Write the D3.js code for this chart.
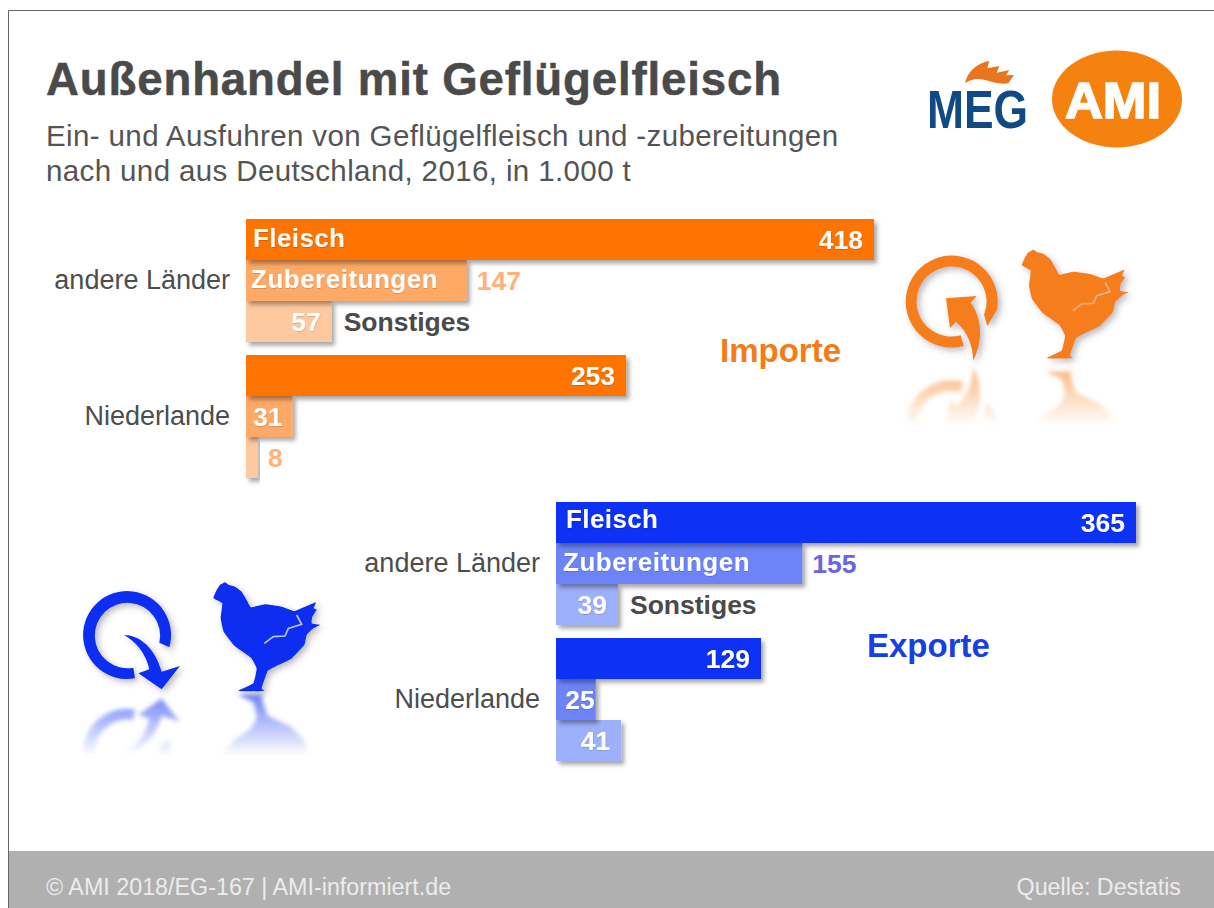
<!DOCTYPE html>
<html><head><meta charset="utf-8">
<script src="https://cdn.jsdelivr.net/npm/d3@7/dist/d3.min.js"></script>
<style>html,body{margin:0;padding:0;background:#fff;overflow:hidden}text{font-family:"Liberation Sans",Arial,sans-serif}</style>
</head><body><script>
const regions = ["andere Länder","Niederlande"];
const kinds = ["Fleisch","Zubereitungen","Sonstiges"];
const importValues = [418,147,57,253,31,8];
const exportValues = [365,155,39,129,25,41];
const titleText = "Außenhandel mit Geflügelfleisch";
const subtitleLines = ["Ein- und Ausfuhren von Geflügelfleisch und -zubereitungen","nach und aus Deutschland, 2016, in 1.000 t"];
const footerLeft = "© AMI 2018/EG-167 | AMI-informiert.de";
const footerRight = "Quelle: Destatis";

const W=1214,H=908;
const svg=d3.select("body").append("svg").attr("width",W).attr("height",H).style("display","block");
const defs=svg.append("defs");
const sh=defs.append("filter").attr("id","shadow").attr("x","-10%").attr("y","-10%").attr("width","125%").attr("height","140%");
sh.append("feDropShadow").attr("dx",3).attr("dy",3.5).attr("stdDeviation",2.2).attr("flood-color","#000").attr("flood-opacity",0.35);
const sh2=defs.append("filter").attr("id","iconShadow").attr("x","-20%").attr("y","-20%").attr("width","150%").attr("height","150%");
sh2.append("feDropShadow").attr("dx",3).attr("dy",3).attr("stdDeviation",3).attr("flood-color","#556").attr("flood-opacity",0.4);
const bl=defs.append("filter").attr("id","blur").attr("x","-20%").attr("y","-20%").attr("width","140%").attr("height","140%");
bl.append("feGaussianBlur").attr("stdDeviation",2);
const ts=defs.append("filter").attr("id","textShadow").attr("x","-5%").attr("y","-20%").attr("width","110%").attr("height","150%");
ts.append("feDropShadow").attr("dx",0.5).attr("dy",1).attr("stdDeviation",0.6).attr("flood-color","#000").attr("flood-opacity",0.15);

// frame and header
svg.append("path").attr("d",`M8.5 ${H} V10.5 H${W}`).attr("fill","none").attr("stroke","#666").attr("stroke-width",1);
svg.append("text").attr("x",46).attr("y",95).attr("font-size",45.6).attr("font-weight",700).attr("letter-spacing",0.86).attr("fill","#4a4a4a").attr("stroke","#4a4a4a").attr("stroke-width",0.5).text(titleText);
subtitleLines.forEach((t,i)=>svg.append("text").attr("x",46).attr("y",146+i*35.3).attr("font-size",29.5).attr("letter-spacing",0.38).attr("fill","#545454").text(t));
svg.append("rect").attr("x",9).attr("y",851).attr("width",W-9).attr("height",57).attr("fill","#b0b0b0");
svg.append("text").attr("x",46).attr("y",895).attr("font-size",23.3).attr("fill","#ececec").text(footerLeft);
svg.append("text").attr("x",1181).attr("y",895).attr("text-anchor","end").attr("font-size",23.3).attr("fill","#ececec").text(footerRight);

// panels
function panel(o){
  const x=d3.scaleLinear().domain([0,o.max]).range([o.x0,o.x1]);
  const rows=regions.flatMap((r,i)=>kinds.map((k,j)=>({r,k,i,j,v:o.values[i*3+j]})));
  const bandH=41;
  const g=svg.append("g");
  const yOf=d=>o.tops[d.i]+d.j*bandH;
  const sel=g.selectAll("g.bar").data(rows.slice().reverse()).join("g").attr("class","bar");
  sel.append("rect").attr("x",x(0)).attr("y",yOf).attr("width",d=>x(d.v)-x(0)).attr("height",bandH)
    .attr("fill",d=>o.colors[d.j]).attr("filter","url(#shadow)");
  regions.forEach((r,i)=>g.append("text").attr("x",x(0)-16).attr("y",o.tops[i]+bandH*1.5+8.5).attr("text-anchor","end")
    .attr("font-size",27).attr("fill","#4d4d4d").text(r));
  rows.forEach(d=>{
    const y=yOf(d)+bandH/2+9.5;
    const inside=o.inside(d);
    const inset=d.v*(o.x1-o.x0)/o.max<45?2:11;
    g.append("text").attr("x",inside?x(d.v)-(d.v===25?1:(d.v===31?10:inset)):x(d.v)+10).attr("y",y).attr("text-anchor",inside?"end":"start")
      .attr("font-size",26.5).attr("font-weight",700).attr("fill",inside?"#fff":o.outColor).attr("filter",inside?"url(#textShadow)":null).text(d3.format("d")(d.v));
  });
  const t=o.tops[0];
  g.append("text").attr("x",x(0)+o.fx).attr("y",t+o.fy).attr("font-size",26).attr("font-weight",700).attr("fill","#fff").attr("letter-spacing",0.4).attr("filter","url(#textShadow)").text(kinds[0]);
  g.append("text").attr("x",x(0)+o.zx).attr("y",t+bandH+28).attr("font-size",26).attr("font-weight",700).attr("fill","#fff").attr("letter-spacing",0.5).attr("filter","url(#textShadow)").text(kinds[1]);
  g.append("text").attr("x",x(o.values[2])+12).attr("y",t+2*bandH+30).attr("font-size",26.5).attr("font-weight",700).attr("fill","#4a4a4a").text(kinds[2]);
  g.append("text").attr("x",o.lx).attr("y",o.ly).attr("font-size",33).attr("font-weight",700).attr("fill",o.labelColor).text(o.label);
}
panel({values:importValues,max:418,x0:246,x1:874,tops:[219,355],colors:["#ff7300","#ffa966","#ffc99f"],outColor:"#ffb27a",labelColor:"#f47b16",label:"Importe",lx:720,ly:362,fx:7,fy:28,zx:5,
  inside:d=>!(d.v===147||d.v===8)});
panel({values:exportValues,max:365,x0:556,x1:1136,tops:[502,638],colors:["#0a32f5","#6c84f8","#9db0fb"],outColor:"#6a63ee",labelColor:"#1740e0",label:"Exporte",lx:867,ly:657,fx:10,fy:26,zx:7,
  inside:d=>d.v!==155});

// icons
const chickenOutline=[[25,68],[35,45],[45,30],[60,22],[72,30],[90,35],[110,50],[125,75],[138,97],[180,88],[230,95],[270,108],[332,82],[326,100],[335,105],[322,125],[320,145],[345,150],[325,160],[305,180],[298,210],[258,252],[210,275],[188,288],[170,340],[178,348],[100,348],[145,325],[155,280],[138,248],[88,212],[56,170],[47,130],[52,85],[35,75]];
const chicken=d3.line().curve(d3.curveCardinalClosed.tension(0.7))(chickenOutline);
const crack="M178 205L205 185L240 183L250 160L290 148L275 120";
const impRing="M242 316L251 348A138 138 0 1 1 351 239L322 288L312 254A105 105 0 1 0 242 316Z";
const impArrow="M198 205L290 198L272 218C300 255 315 320 280 392C278 345 262 305 228 275L210 295Z";
const expRing="M220 293L225 325A132 132 0 1 1 328 232L298 218A98 98 0 1 0 220 293Z";
const expArrow="M192 195C240 195 285 235 305 305L360 288L305 358L235 310L268 298C258 250 228 215 192 195Z";

function icon(color,crackOp,ox,oy,ringD,arrowD,chX,chY,mirrorY,chMirrorY,id){
  const grad=defs.append("linearGradient").attr("id",id).attr("gradientUnits","userSpaceOnUse").attr("x1",0).attr("x2",0).attr("y1",mirrorY).attr("y2",mirrorY+62);
  grad.append("stop").attr("offset",0).attr("stop-color","#fff").attr("stop-opacity",0.6);
  grad.append("stop").attr("offset",1).attr("stop-color","#fff").attr("stop-opacity",0);
  defs.append("mask").attr("id",id+"m").attr("maskUnits","userSpaceOnUse").attr("x",0).attr("y",0).attr("width",W).attr("height",H)
    .append("rect").attr("width",W).attr("height",H).attr("fill",`url(#${id})`);
  const refl=svg.append("g").attr("mask",`url(#${id}m)`).append("g").attr("filter","url(#blur)");
  const rg=refl.append("g").attr("transform",`translate(${ox},${2*mirrorY-oy}) scale(0.3333,-0.3333)`);
  rg.append("path").attr("d",ringD).attr("fill",color);
  rg.append("path").attr("d",arrowD).attr("fill",color);
  refl.append("path").attr("transform",`translate(${chX},${2*chMirrorY-chY}) scale(0.3333,-0.3333)`).attr("d",chicken).attr("fill",color);

  const top=svg.append("g").attr("filter","url(#iconShadow)");
  const a=top.append("g").attr("transform",`translate(${ox},${oy}) scale(0.3333)`);
  a.append("path").attr("d",ringD).attr("fill",color);
  a.append("path").attr("d",arrowD).attr("fill",color);
  const c=top.append("g").attr("transform",`translate(${chX},${chY}) scale(0.3333)`);
  c.append("path").attr("d",chicken).attr("fill",color);
  c.append("path").attr("d",crack).attr("fill","none").attr("stroke","#ddd").attr("stroke-opacity",crackOp).attr("stroke-width",5);
}
icon("#f57d1f",0.55,880,230,impRing,impArrow,1013.4,242.3,364,365,"gi");
icon("#0d2ff0",0.85,60,570,expRing,expArrow,205,575,694,693,"ge");

// logos
svg.append("ellipse").attr("cx",1117).attr("cy",99).attr("rx",65).attr("ry",48.5).attr("fill","#f5820f");
svg.append("text").attr("x",1065).attr("y",118).attr("font-size",50).attr("font-weight",700).attr("fill","#fff").attr("stroke","#fff").attr("stroke-width",1.6)
  .attr("textLength",96).attr("lengthAdjust","spacingAndGlyphs").text("AMI");
svg.append("text").attr("x",927).attr("y",128).attr("font-size",54).attr("font-weight",700).attr("fill","#0f4a85")
  .attr("textLength",101).attr("lengthAdjust","spacingAndGlyphs").text("MEG");
svg.append("path").attr("transform","translate(880,30) scale(0.3333)").attr("fill","#e8761f")
  .attr("d","M255 160C262 125 290 100 328 92L322 115L358 108L350 128L388 120L378 136L402 135L385 160C350 165 320 148 295 147C280 147 265 152 255 160Z");
</script></body></html>
